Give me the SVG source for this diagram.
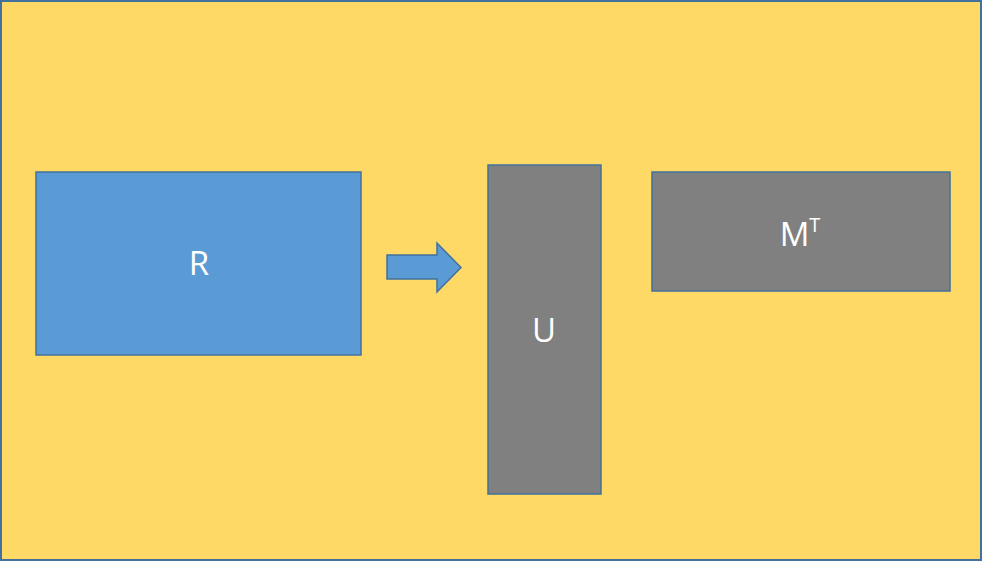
<svg xmlns="http://www.w3.org/2000/svg" width="982" height="561" viewBox="0 0 982 561">
<style>
.box{stroke:#41719C;stroke-width:1.5}
.lbl{font-family:"Open Sans","Liberation Sans",sans-serif;font-size:33px;fill:#FFFFFF;text-anchor:middle}
</style>
<rect x="1" y="1" width="980" height="559" fill="#FFD966" stroke="#41719C" stroke-width="2"/>
<g id="R">
<rect class="box" x="36" y="172" width="325" height="183" fill="#5B9BD5"/>
<text class="lbl" x="199" y="275">R</text>
</g>
<g id="U">
<rect class="box" x="488" y="165" width="113" height="329" fill="#808080"/>
<text class="lbl" x="544" y="342">U</text>
</g>
<g id="MT">
<rect class="box" x="652" y="172" width="298" height="119" fill="#808080"/>
<text class="lbl" x="800" y="246">M<tspan font-size="20" dy="-14">T</tspan></text>
</g>
<g id="connectors">
<polygon class="box" points="387,255 437,255 437,243 461,267.5 437,292 437,279 387,279" fill="#5B9BD5"/>
</g>
</svg>
